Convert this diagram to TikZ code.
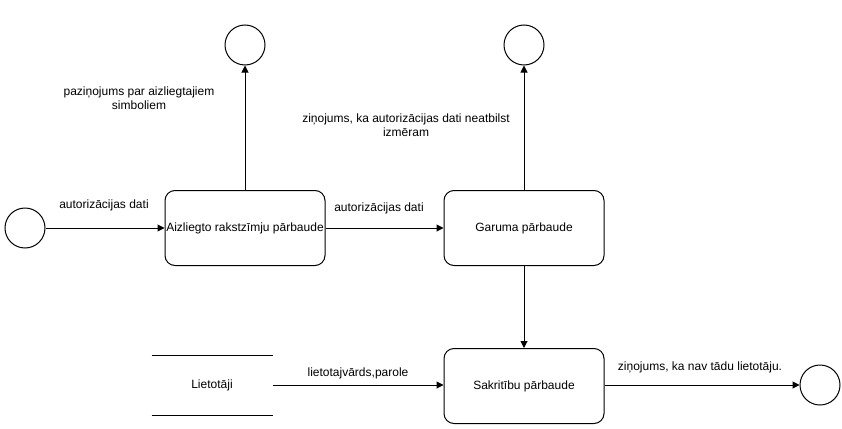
\documentclass[tikz,border=0pt]{standalone}
\usepackage{fontspec}
\setmainfont{Liberation Sans}
\usetikzlibrary{arrows.meta}

\tikzset{
	statebox/.style={draw, rounded corners=10pt, minimum width=160pt, minimum height=75pt, inner sep=0pt},
	endpoint/.style={draw, circle, minimum size=40pt, inner sep=0pt},
	flow/.style={-{Triangle[length=7pt,width=7pt]}},
	flowtext/.style={inner sep=0pt, align=center}
}

\begin{document}
\begin{tikzpicture}[x=1pt, y=-1pt, line width=1pt, font=\fontsize{12}{14}\selectfont]
		\useasboundingbox (0,0) rectangle (842,428);
		
		% upper row
		\node[endpoint] (start) at (25,228) {};
		\node[statebox] (chars) at (245,228) {Aizliegto rakstzīmju pārbaude};
		\node[statebox] (length) at (524,228) {Garuma pārbaude};
		\node[endpoint] (charsend) at (245,45) {};
		\node[endpoint] (lengthend) at (524,45) {};
		
		\draw[flow] (start) -- (chars);
		\draw[flow] (chars) -- (length);
		\draw[flow] (chars) -- (charsend);
		\draw[flow] (length) -- (lengthend);
		
		\node[flowtext] (lbldata) at (104,205) {autorizācijas dati};
		\node[flowtext] (lbldatatwo) at (379,208) {autorizācijas dati};
		\node[flowtext] (lblchars) at (139,98) {paziņojums par aizliegtajiem\\simboliem};
		\node[flowtext] (lbllength) at (406,125) {ziņojums, ka autorizācijas dati neatbilst\\izmēram};
		
		% lower row
		\node[statebox] (match) at (524,386) {Sakritību pārbaude};
		\node[minimum width=120pt, minimum height=59pt, inner sep=0pt] (users) at (212,385) {Lietotāji};
		\draw (users.north west) -- (users.north east);
		\draw (users.south west) -- (users.south east);
		\node[endpoint] (matchend) at (820,385) {};
		
		\draw[flow] (length) -- (match);
		\draw[flow] (users) -- (users -| match.west);
		\draw[flow] (matchend -| match.east) -- (matchend);
		
		\node[flowtext] (lbluser) at (358,373) {lietotajvārds,parole};
		\node[flowtext] (lblmatch) at (700,367) {ziņojums, ka nav tādu lietotāju.};
\end{tikzpicture}
\end{document}
